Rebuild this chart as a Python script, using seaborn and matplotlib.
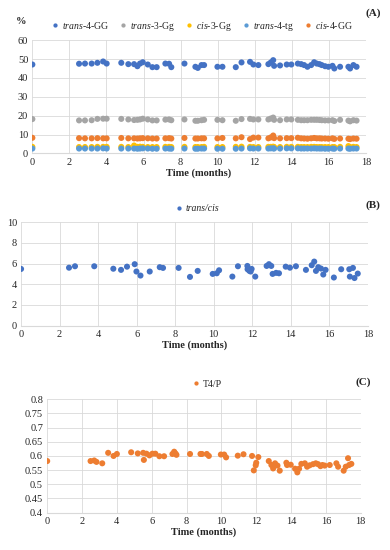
import matplotlib
matplotlib.use("Agg")
import matplotlib.pyplot as plt
import matplotlib.ticker as mticker
import numpy as np
import pandas as pd
import seaborn as sns

# --- panel A: conformer percentages ---
time_a = [0, 2.52, 2.84, 3.2, 3.51, 3.82, 4.01, 4.8, 5.18, 5.49, 5.67, 5.81, 5.96, 6.23,
          6.48, 6.71, 7.18, 7.38, 7.5, 8.21, 8.8, 8.93, 9.13, 9.27, 9.99, 10.26, 10.98,
          11.29, 11.75, 11.93, 12.2, 12.74, 12.87, 13.0, 13.05, 13.37, 13.73, 13.98, 14.33,
          14.51, 14.67, 14.85, 15.05, 15.21, 15.35, 15.5, 15.62, 15.8, 15.98, 16.2, 16.3,
          16.61, 17.06, 17.15, 17.33, 17.5]
trans_4GG = [47.1, 47.5, 47.6, 47.6, 48.0, 48.7, 47.6, 48.0, 47.3, 47.3, 46.2, 47.6, 48.3,
             47.1, 45.7, 45.7, 47.6, 47.5, 45.7, 47.6, 45.9, 45.3, 46.8, 46.8, 45.9, 45.9,
             45.7, 48.2, 48.5, 47.1, 46.8, 47.3, 48.2, 49.4, 46.4, 46.6, 47.1, 47.1, 47.6,
             47.3, 46.8, 45.9, 46.8, 48.3, 47.6, 47.3, 46.8, 46.2, 45.9, 46.4, 45.0, 45.9,
             45.9, 45.0, 46.8, 45.9]
trans_3Gg = [18.2, 17.5, 17.5, 17.6, 18.3, 18.4, 18.4, 18.3, 18.0, 17.7, 17.8, 18.0, 18.4,
             18.0, 17.5, 17.5, 17.9, 18.0, 17.6, 18.0, 17.3, 17.3, 17.6, 17.8, 17.8, 17.6,
             17.3, 18.2, 18.3, 18.0, 18.0, 18.0, 18.5, 19.0, 17.8, 17.6, 18.0, 18.0, 17.8,
             17.6, 17.6, 17.6, 17.8, 17.8, 17.8, 17.7, 17.6, 17.5, 17.5, 17.6, 17.2, 17.8,
             17.4, 17.0, 17.6, 17.4]
cis_3Gg = [3.5, 3.4, 3.4, 3.4, 3.5, 3.5, 3.5, 3.5, 3.4, 4.2, 3.5, 3.6, 3.5, 3.4, 3.4, 3.4,
           3.5, 3.5, 3.4, 3.5, 3.4, 3.4, 3.4, 3.5, 3.4, 3.4, 3.5, 3.6, 3.5, 3.4, 3.4, 3.5,
           3.5, 3.6, 3.4, 3.4, 3.5, 3.5, 3.5, 3.4, 3.4, 3.4, 3.5, 3.5, 3.4, 3.4, 3.4, 3.4,
           3.4, 3.4, 3.4, 3.5, 3.9, 3.4, 3.5, 3.4]
trans_4tg = [2.6, 2.6, 2.6, 2.6, 2.6, 2.7, 2.6, 2.6, 2.6, 2.6, 2.5, 2.6, 2.7, 2.6, 2.5, 2.5,
             2.6, 2.6, 2.5, 2.6, 2.5, 2.5, 2.6, 2.6, 2.5, 2.5, 2.5, 2.6, 2.7, 2.6, 2.6, 2.6,
             2.7, 2.7, 2.6, 2.6, 2.7, 2.7, 2.7, 2.6, 2.6, 2.6, 2.6, 2.7, 2.6, 2.6, 2.6, 2.5,
             2.5, 2.6, 2.5, 2.6, 2.6, 2.5, 2.6, 2.6]
cis_4GG = [8.3, 8.1, 8.0, 8.0, 8.1, 8.0, 8.0, 8.2, 8.0, 8.0, 7.9, 8.0, 8.1, 8.0, 7.9, 7.9,
           8.0, 8.1, 7.9, 8.2, 7.9, 7.9, 8.0, 8.0, 8.0, 8.2, 8.0, 8.6, 7.6, 8.4, 8.4, 8.0,
           8.5, 9.5, 8.1, 8.0, 8.1, 8.1, 8.3, 8.0, 7.9, 7.8, 8.0, 8.2, 8.0, 8.0, 7.9, 7.9,
           7.8, 8.0, 7.7, 7.9, 7.8, 7.6, 7.9, 7.8]
series_a = ["$\\mathit{trans}$-4-GG", "$\\mathit{trans}$-3-Gg", "$\\mathit{cis}$-3-Gg",
            "$\\mathit{trans}$-4-tg", "$\\mathit{cis}$-4-GG"]
colors_a = ["#4472C4", "#A5A5A5", "#FFC000", "#5B9BD5", "#ED7D31"]

# --- panel B: trans/cis ratio ---
time_b = [0, 2.49, 2.8, 3.8, 4.79, 5.19, 5.5, 5.9, 5.99, 6.2, 6.68, 7.2, 7.37, 8.18, 8.77,
          9.17, 9.95, 10.16, 10.28, 10.97, 11.26, 11.75, 11.76, 11.85, 11.92, 11.97, 12.16,
          12.75, 12.87, 12.99, 13.06, 13.24, 13.39, 13.74, 13.96, 14.27, 14.79, 15.09,
          15.22, 15.31, 15.43, 15.57, 15.69, 15.81, 16.24, 16.62, 17.04, 17.07, 17.23,
          17.31, 17.48]
trans_cis = [5.48, 5.6, 5.74, 5.74, 5.5, 5.39, 5.7, 5.94, 5.23, 4.84, 5.23, 5.65, 5.58,
             5.58, 4.71, 5.29, 5.0, 5.06, 5.35, 4.74, 5.74, 5.77, 5.45, 5.3, 5.23, 5.48,
             4.74, 5.77, 5.94, 5.77, 5.0, 5.1, 5.06, 5.7, 5.6, 5.74, 5.39, 5.84, 6.19, 5.29,
             5.65, 5.52, 4.94, 5.39, 4.65, 5.45, 5.45, 4.74, 5.58, 4.6, 5.03]

# --- panel C: T4/P ratio ---
time_c = [0, 2.49, 2.7, 2.83, 3.16, 3.5, 3.81, 4.0, 4.82, 5.2, 5.51, 5.55, 5.7, 5.87, 6.04,
          6.21, 6.44, 6.71, 7.19, 7.29, 7.36, 7.42, 8.2, 8.8, 8.88, 9.16, 9.28, 9.97, 10.16,
          10.27, 10.94, 11.27, 11.76, 11.86, 11.97, 12.0, 12.12, 12.72, 12.87, 12.97, 13.08,
          13.22, 13.35, 13.73, 13.77, 13.98, 14.23, 14.36, 14.46, 14.59, 14.79, 14.92,
          15.07, 15.26, 15.42, 15.55, 15.69, 15.8, 15.93, 16.22, 16.6, 16.7, 17.02, 17.14,
          17.27, 17.33, 17.46]
t4_p = [0.582, 0.582, 0.584, 0.579, 0.574, 0.611, 0.6, 0.607, 0.613, 0.609, 0.611, 0.586,
        0.608, 0.602, 0.608, 0.608, 0.599, 0.599, 0.607, 0.615, 0.609, 0.604, 0.607, 0.607,
        0.607, 0.607, 0.6, 0.605, 0.605, 0.595, 0.601, 0.606, 0.6, 0.549, 0.567, 0.576,
        0.596, 0.582, 0.568, 0.556, 0.574, 0.566, 0.548, 0.576, 0.568, 0.569, 0.555, 0.542,
        0.555, 0.572, 0.574, 0.562, 0.567, 0.571, 0.574, 0.571, 0.564, 0.568, 0.566, 0.568,
        0.574, 0.562, 0.548, 0.562, 0.592, 0.568, 0.572]

sns.set_style("white")
plt.rcParams["font.family"] = ["Liberation Serif", "DejaVu Serif"]
plt.rcParams["mathtext.fontset"] = "custom"
plt.rcParams["mathtext.rm"] = "Liberation Serif"
plt.rcParams["mathtext.it"] = "Liberation Serif:italic"
plt.rcParams["mathtext.bf"] = "Liberation Serif:bold"

GRID = "#d9d9d9"
FS = 7.5
LFS = 7
MS = 19


def style_axes(ax, xticks, yticks, fmt=None):
    ax.set_xlim(0, 18)
    ax.set_xticks(xticks)
    ax.set_ylim(yticks[0], yticks[-1])
    ax.set_yticks(yticks)
    if fmt:
        ax.yaxis.set_major_formatter(mticker.FuncFormatter(fmt))
    ax.grid(True, color=GRID, lw=0.6)
    ax.set_axisbelow(True)
    for s in ax.spines.values():
        s.set_visible(False)
    ax.spines["bottom"].set_visible(True)
    ax.spines["bottom"].set_color(GRID)
    ax.tick_params(labelsize=FS, length=0, pad=3)
    ax.set_xlabel("Time (months)", fontsize=FS, fontweight="bold", labelpad=1)
    ax.set_ylabel("")


fig = plt.figure(figsize=(3.9, 5.5), dpi=100)
xt = list(range(0, 19, 2))

# panel A
axA = fig.add_axes([0.083, 0.721, 0.855, 0.206])
df_a = pd.DataFrame({"time": time_a * 5,
                     "value": trans_4GG + trans_3Gg + cis_3Gg + trans_4tg + cis_4GG,
                     "series": sum([[s] * len(time_a) for s in series_a], [])})
sns.scatterplot(data=df_a, x="time", y="value", hue="series", hue_order=series_a,
                palette=colors_a, s=MS, linewidth=0, ax=axA)
style_axes(axA, xt, list(range(0, 61, 10)))
axA.legend(loc="lower center", bbox_to_anchor=(0.5, 1.03), ncol=5, frameon=False,
           fontsize=LFS, handletextpad=-0.3, columnspacing=0.45, markerscale=0.7,
           borderaxespad=0)
fig.text(16 / 390, 1 - 22 / 550, "%", fontsize=FS, fontweight="bold", va="center")
fig.text(365 / 390, 1 - 13 / 550, "(A)", fontsize=8, fontweight="bold", va="center")

# panel B
axB = fig.add_axes([0.054, 0.408, 0.889, 0.188])
df_b = pd.DataFrame({"time": time_b, "value": trans_cis, "series": "trans/cis"})
sns.scatterplot(data=df_b, x="time", y="value", hue="series", palette=["#4472C4"],
                s=MS, linewidth=0, ax=axB)
style_axes(axB, xt, list(range(0, 11, 2)))
legB = axB.legend(loc="lower center", bbox_to_anchor=(0.5, 1.05), frameon=False,
                  fontsize=LFS, handletextpad=-0.3, markerscale=0.7, borderaxespad=0)
for t in legB.get_texts():
    t.set_fontstyle("italic")
fig.text(366 / 390, 1 - 205 / 550, "(B)", fontsize=8, fontweight="bold", va="center")

# panel C
axC = fig.add_axes([0.121, 0.068, 0.804, 0.206])
df_c = pd.DataFrame({"time": time_c, "value": t4_p, "series": "T4/P"})
sns.scatterplot(data=df_c, x="time", y="value", hue="series", palette=["#ED7D31"],
                s=MS, linewidth=0, ax=axC)
style_axes(axC, xt, list(np.round(np.arange(0.4, 0.801, 0.05), 2)),
           fmt=lambda v, p: "%g" % round(v, 2))
axC.legend(loc="lower center", bbox_to_anchor=(0.5, 1.06), frameon=False,
           fontsize=LFS, handletextpad=-0.3, markerscale=0.7, borderaxespad=0)
fig.text(355 / 390, 1 - 382 / 550, "(C)", fontsize=8, fontweight="bold", va="center")

fig.savefig("out.png", dpi=100)
